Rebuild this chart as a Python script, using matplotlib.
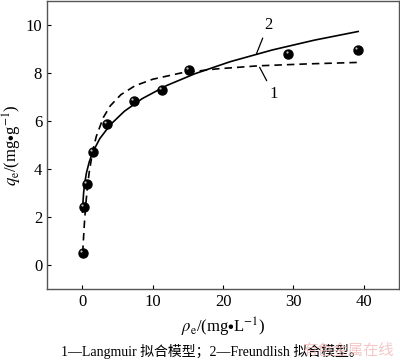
import matplotlib
matplotlib.use('Agg')
import matplotlib.pyplot as plt
import matplotlib.transforms as mtransforms

plt.rcParams['font.family'] = ['Liberation Serif', 'Noto Sans CJK SC']
plt.rcParams['mathtext.fontset'] = 'stix'

# measured points
rho_e = [0.05, 0.28, 0.66, 1.52, 3.46, 7.3, 11.3, 15.2, 29.3, 39.2]
q_e = [0.51, 2.42, 3.37, 4.70, 5.88, 6.82, 7.30, 8.12, 8.78, 8.95]

# curve 1 (Langmuir)
lang_x = [0.07, 0.15, 0.3, 0.5, 0.75, 1.0, 1.5, 2.0, 3.0, 4.0, 5.5, 7.5, 10, 14, 19, 25, 32, 39]
lang_y = [0.5, 0.93, 1.68, 2.49, 3.26, 3.87, 4.75, 5.35, 6.14, 6.63, 7.09, 7.46, 7.73, 7.99, 8.16, 8.29, 8.37, 8.43]

# curve 2 (Freundlish)
freu_x = [0.05, 0.1, 0.2, 0.35, 0.6, 1.0, 1.5, 2.5, 4, 6, 8.5, 12, 16, 21, 27, 33, 39.2]
freu_y = [2.20, 2.57, 3.00, 3.39, 3.83, 4.29, 4.70, 5.26, 5.84, 6.40, 6.92, 7.47, 7.96, 8.46, 8.95, 9.36, 9.72]

x_ticks = [0, 10, 20, 30, 40]
y_ticks = [0, 2, 4, 6, 8, 10]

fig = plt.figure(figsize=(4.0, 3.62), dpi=100)
ax = fig.add_axes([0.1175, 0.2017, 0.88, 0.7963])

ax.plot(lang_x, lang_y, color='black', lw=1.2, ls=(0, (4.5, 3)))
ax.plot(freu_x, freu_y, color='black', lw=1.2)

ax.plot(rho_e, q_e, 'o', color='black', ms=6.5, zorder=3)
hl = ax.transData + mtransforms.ScaledTranslation(-1.3 / 72, 1.3 / 72, fig.dpi_scale_trans)
ax.plot(rho_e, q_e, 'o', color='#bbbbbb', ms=1.6, mec='none', transform=hl, zorder=4)

ax.annotate('2', xy=(24.75, 8.79), xytext=(26.4, 10.0), fontsize=12,
            ha='center', va='center',
            arrowprops=dict(arrowstyle='-', color='black', lw=0.9, shrinkA=2, shrinkB=0))
ax.annotate('1', xy=(25.2, 8.23), xytext=(27.2, 7.12), fontsize=12,
            ha='center', va='center',
            arrowprops=dict(arrowstyle='-', color='black', lw=0.9, shrinkA=2, shrinkB=0))

ax.set_xlim(-5, 45)
ax.set_ylim(-1, 11)
ax.set_xticks(x_ticks)
ax.set_yticks(y_ticks)
ax.tick_params(direction='in', length=3, width=0.8, labelsize=12, colors='black')
for s in ax.spines.values():
    s.set_color('#555555')
    s.set_linewidth(1.0)

ax.set_xlabel(r'$\rho_\mathrm{e}$/(mg$\bullet$L$^{-1}$)', fontsize=12, labelpad=4)
ax.set_ylabel(r'$q_\mathrm{e}$/(mg$\bullet$g$^{-1}$)', fontsize=12, labelpad=1)

fig.text(0.53, 0.03, '1—Langmuir 拟合模型；2—Freundlish 拟合模型。', fontsize=10,
         ha='center', va='center')
fig.text(0.87, 0.03, '有色金属在线', fontsize=11, color='#f2b8b8', alpha=0.8,
         ha='center', va='center')

fig.savefig('out.png', dpi=100)
